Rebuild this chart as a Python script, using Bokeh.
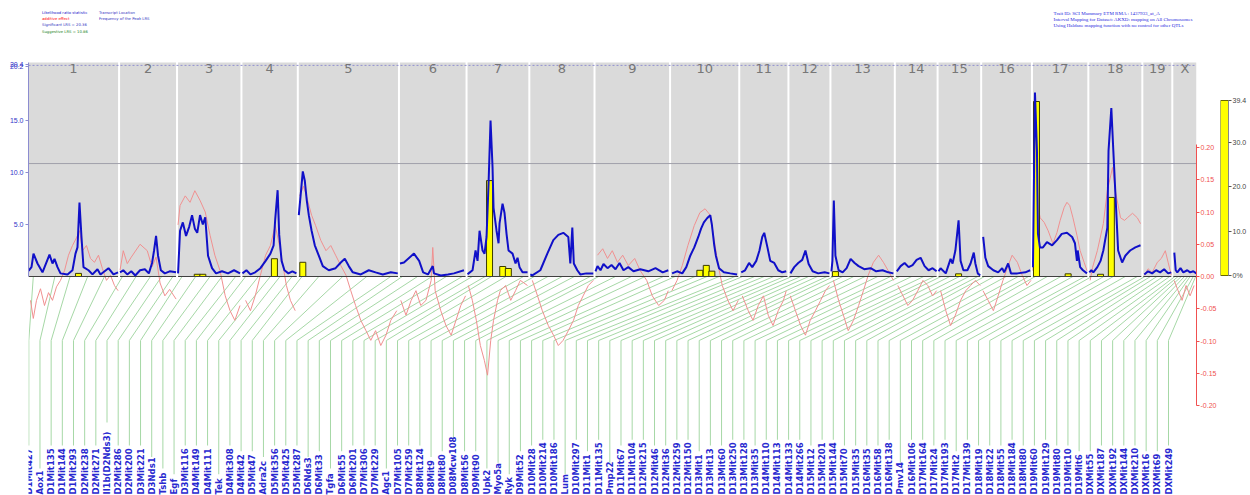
import math
from bokeh.plotting import figure
from bokeh.models import (Range1d, FixedTicker, PrintfTickFormatter, Legend, LegendItem,
                          Label, LabelSet, ColumnDataSource, LinearAxis)
from bokeh.layouts import row
from bokeh.embed import file_html
from bokeh.resources import INLINE
from bokeh.core.properties import value

# ---------------- data ----------------
CHROMS = ["1", "2", "3", "4", "5", "6", "7", "8", "9", "10",
          "11", "12", "13", "14", "15", "16", "17", "18", "19", "X"]
CHR_LEN_CM = [112, 70, 78, 68, 124, 82, 76, 79, 92, 84, 59, 50, 78, 51, 52, 61, 68, 65, 35, 29]
GAP_CM = 2.5

# LRS curve, one list per chromosome (position cM, LRS)
LRS_CM = [
    [0, 3.75, 6.25, 11.25, 17.5, 26.25, 30, 32.5, 36.25, 40, 48.75, 55, 58.75, 61.25, 63.75, 66.25, 68.75, 75, 80, 86.25, 90, 100, 106.25, 112],
    [0, 4, 9, 14, 19, 25, 31, 36, 40, 42.5, 45, 47.5, 51, 56, 62, 70],
    [0, 2.5, 6, 10, 14, 17.5, 21, 24, 27.5, 31, 34, 37.5, 42.5, 47.5, 55, 62.5, 70, 77.5],
    [0, 5, 10, 16, 22.5, 29, 35, 39, 41, 44, 46, 49, 52.5, 57.5, 62.5, 67.5],
    [0, 5, 7.5, 10, 12.5, 16, 20, 25, 30, 37.5, 46, 52.5, 57.5, 62.5, 67.5, 77.5, 87.5, 96, 105, 115, 123.75],
    [0, 5, 17.5, 24, 29, 35, 41, 42.5, 51, 60, 67.5, 80],
    [0, 1.25, 6.25, 10, 12.5, 15, 18.75, 21.25, 23.75, 26.25, 28.75, 31.25, 32.5, 36.25, 38.75, 40, 43.75, 46.25, 48.75, 51.25, 56.25, 60, 62.5, 65, 68.75, 75],
    [0, 2.5, 12.5, 21.25, 28.75, 35, 41.25, 47.5, 50, 52.5, 54.4, 58.75, 62.5, 70, 78.75],
    [0, 2.5, 6.25, 10, 15, 20, 25, 30, 35, 41, 47.5, 56, 66, 75, 84, 91],
    [1.25, 7.5, 14, 19, 24, 29, 34, 37.5, 41, 45, 49, 51, 54, 56, 60, 66, 74, 82.5],
    [1.25, 6, 11, 15, 20, 24, 27.5, 30, 34, 37.5, 42.5, 47.5, 52.5, 57.5],
    [1.25, 6, 11, 16, 20, 24, 29, 36, 44, 50],
    [0, 1.25, 3, 5, 9, 14, 19, 24, 29, 34, 41, 49, 56, 64, 71, 77.5],
    [1.25, 6, 11, 16, 21, 26, 31, 36, 41, 46, 51],
    [0, 2.5, 9, 15, 17.5, 21, 25, 27.5, 31, 36, 40, 44, 46, 49, 52],
    [1.25, 4, 7.5, 14, 20, 25, 27.5, 32.5, 36, 44, 54, 60],
    [0, 2.5, 5, 6.25, 8.75, 12.5, 17.5, 24, 30, 36, 42.5, 49, 52.5, 55, 56, 59, 62.5, 67.5],
    [0, 2.5, 5, 10, 14, 17.5, 22.5, 24, 27.5, 30, 34, 36, 41, 45, 51, 57.5, 64],
    [1.25, 6, 11, 16, 21, 26, 31, 35],
    [1.25, 3, 5, 9, 12.5, 17.5, 21, 25, 28.75],
]
LRS_VAL = [
    [0.55, 0.9, 2.2, 1.25, 0.4, 2.1, 1.25, 1.7, 0.9, 0.3, 0.2, 0.6, 2.2, 2.8, 7.1, 3.8, 0.9, 0.6, 0.2, 0.7, 0.2, 0.8, 0.2, 0.4],
    [0.4, 0.6, 0.2, 0.5, 0.1, 0.6, 0.7, 0.3, 1.3, 2.5, 3.9, 2.0, 0.6, 0.3, 0.5, 0.4],
    [0.3, 4.4, 5.2, 3.9, 4.8, 5.9, 4.6, 4.2, 5.9, 5.0, 5.7, 2.0, 0.8, 0.3, 0.5, 0.3, 0.6, 0.3],
    [0.3, 0.6, 0.2, 0.4, 0.8, 1.5, 2.2, 3.0, 5.5, 8.3, 4.0, 1.5, 0.6, 0.3, 0.5, 0.3],
    [5.9, 10.1, 9.2, 7.3, 5.9, 4.4, 3.0, 2.0, 1.0, 0.6, 0.8, 1.35, 1.7, 1.0, 0.4, 0.2, 0.6, 0.4, 0.2, 0.4, 0.3],
    [1.25, 1.35, 2.2, 1.5, 0.4, 0.2, 1.0, 0.3, 0.1, 0.2, 0.3, 0.6],
    [0.2, 0.3, 0.6, 2.5, 1.5, 4.4, 2.5, 2.2, 3.8, 8.9, 15.0, 10.5, 6.6, 4.4, 3.2, 5.1, 7.0, 6.1, 4.1, 2.5, 2.2, 1.25, 1.8, 0.9, 0.4, 0.4],
    [0.2, 0.1, 0.6, 2.2, 3.5, 4.0, 4.2, 3.8, 1.25, 4.7, 1.25, 0.6, 0.2, 0.3, 0.3],
    [0.5, 1.0, 0.6, 1.2, 0.8, 1.1, 0.7, 1.3, 0.6, 0.9, 0.5, 0.7, 0.5, 0.8, 0.4, 0.6],
    [0.3, 0.5, 0.3, 0.9, 2.0, 2.8, 3.8, 4.6, 5.2, 5.6, 5.9, 5.0, 3.0, 2.0, 0.8, 0.4, 0.3, 0.2],
    [0.4, 0.6, 1.3, 0.9, 1.5, 2.5, 3.8, 4.2, 2.8, 1.5, 1.3, 0.6, 0.4, 0.5],
    [0.3, 0.9, 1.3, 1.6, 2.5, 1.2, 0.5, 0.3, 0.4, 0.3],
    [0.5, 1.5, 7.3, 2.0, 0.6, 0.4, 0.8, 1.7, 1.3, 1.0, 0.7, 0.8, 0.5, 0.6, 0.4, 0.3],
    [0.5, 1.0, 1.3, 0.9, 1.1, 1.6, 1.8, 1.0, 0.6, 0.8, 0.5],
    [0.5, 0.8, 0.3, 1.7, 1.25, 2.5, 5.4, 1.5, 0.6, 0.6, 1.25, 2.3, 1.25, 0.3, 0.1],
    [3.8, 1.8, 1.0, 0.6, 0.4, 0.8, 0.4, 1.25, 0.3, 0.3, 0.4, 0.6],
    [0.9, 17.7, 12.1, 4.1, 2.8, 2.8, 3.3, 3.0, 3.5, 4.1, 4.2, 3.8, 3.2, 1.5, 2.5, 0.9, 0.6, 0.3],
    [0.4, 0.6, 0.4, 0.9, 1.5, 2.5, 4.7, 12.1, 16.2, 12.1, 5.7, 2.5, 1.35, 2.0, 2.5, 2.8, 3.0],
    [0.2, 0.5, 0.3, 0.6, 0.4, 0.7, 0.3, 0.4],
    [2.3, 0.6, 0.4, 0.8, 0.4, 0.6, 0.4, 0.5, 0.3],
]

# additive effect, one list per chromosome
ADD_CM = [
    [2.5, 6, 10, 15, 20, 25, 30, 35, 40, 45, 50, 55, 60, 64, 67.5, 72.5, 77.5, 82.5, 87.5, 92.5, 97.5, 102.5, 107.5, 112],
    [0, 4, 9, 14, 25, 34, 40, 45, 50, 56, 62, 70],
    [0, 2.5, 9, 15, 21, 27.5, 34, 40, 46, 52.5, 59, 65, 71, 77.5],
    [4, 10, 16, 22.5, 29, 35, 41, 45, 50, 55, 60, 66],
    [1, 6, 11, 16, 21, 27.5, 34, 40, 46, 52.5, 59, 65, 71, 77.5, 84, 90, 96, 102.5, 109, 115, 122.5],
    [1, 7.5, 14, 20, 26, 32.5, 39, 41, 44, 51, 57.5, 64, 70, 76, 82],
    [1, 6, 11, 16, 21, 25, 29, 32.5, 37.5, 41, 47.5, 54, 60, 66, 75],
    [2.5, 9, 15, 22.5, 29, 35, 41, 47.5, 54, 60, 66, 72.5, 78.75],
    [2.5, 9, 15, 21, 27.5, 34, 41, 49, 56, 64, 71, 79, 86, 91],
    [1, 7.5, 14, 21, 29, 36, 42.5, 49, 54, 59, 64, 71, 77.5, 84],
    [2.5, 10, 16, 22.5, 29, 35, 41, 47.5, 54, 57.5],
    [1, 7.5, 14, 20, 26, 32.5, 39, 45, 50],
    [2.5, 9, 15, 21, 27.5, 34, 40, 46, 52.5, 59, 65, 71, 77.5],
    [2.5, 9, 15, 21, 27.5, 34, 40, 46, 51],
    [2.5, 9, 15, 21, 27.5, 34, 40, 46, 52],
    [1, 7.5, 14, 20, 26, 32.5, 37.5, 44, 50, 56, 61],
    [0, 2.5, 5, 9, 14, 19, 25, 30, 34, 39, 42.5, 46, 50, 55, 59, 64, 67.5],
    [1, 4, 10, 17.5, 22.5, 29, 32.5, 39, 44, 47.5, 54, 60, 64],
    [1, 6, 11, 17.5, 22.5, 27.5, 31, 35],
    [1, 6, 11, 16, 21, 26],
]
ADD_VAL = [
    [-0.037, -0.065, -0.037, -0.019, -0.045, -0.025, -0.037, -0.016, -0.006, 0.009, 0.033, 0.048, 0.06, 0.071, 0.04, 0.048, 0.028, 0.022, 0.033, 0.012, -0.006, 0.002, -0.014, -0.022],
    [0.01, 0.04, 0.02, 0.03, 0.05, 0.04, 0.015, 0.03, -0.01, -0.03, -0.02, -0.035],
    [0.08, 0.11, 0.125, 0.115, 0.133, 0.118, 0.1, 0.064, 0.033, 0.009, -0.03, -0.053, -0.068, -0.045],
    [-0.037, -0.053, -0.03, 0.002, 0.033, 0.048, 0.079, 0.056, 0.022, -0.014, -0.037, -0.053],
    [0.125, 0.14, 0.118, 0.095, 0.079, 0.056, 0.04, 0.048, 0.033, 0.017, 0.002, -0.022, -0.045, -0.068, -0.084, -0.099, -0.084, -0.107, -0.091, -0.068, -0.053],
    [-0.037, -0.06, -0.037, -0.022, -0.045, -0.037, -0.006, 0.045, -0.022, -0.053, -0.076, -0.091, -0.068, -0.045, -0.03],
    [-0.014, -0.037, -0.068, -0.107, -0.13, -0.153, -0.099, -0.068, -0.037, -0.022, -0.014, -0.037, -0.022, -0.006, -0.014],
    [-0.006, -0.03, -0.053, -0.076, -0.091, -0.107, -0.099, -0.084, -0.068, -0.045, -0.03, -0.014, -0.006],
    [0.033, 0.043, 0.028, 0.04, 0.022, 0.033, 0.017, 0.028, 0.009, -0.006, -0.03, -0.045, -0.037, -0.022],
    [-0.022, -0.006, 0.017, 0.048, 0.079, 0.099, 0.105, 0.095, 0.056, 0.017, -0.014, -0.037, -0.053, -0.037],
    [-0.03, -0.053, -0.068, -0.045, -0.03, -0.06, -0.076, -0.053, -0.037, -0.022],
    [-0.03, -0.053, -0.076, -0.091, -0.068, -0.053, -0.037, -0.022, -0.014],
    [-0.006, -0.037, -0.06, -0.084, -0.068, -0.045, -0.022, 0.002, 0.022, 0.033, 0.022, 0.009, -0.006],
    [-0.014, -0.03, -0.045, -0.037, -0.022, -0.006, -0.014, -0.03, -0.022],
    [-0.022, -0.053, -0.076, -0.06, -0.037, -0.022, -0.014, -0.006, -0.014],
    [-0.022, -0.037, -0.053, -0.03, -0.006, 0.017, 0.033, 0.022, 0.002, -0.014, -0.006],
    [0.009, 0.144, 0.118, 0.091, 0.084, 0.071, 0.051, 0.068, 0.087, 0.107, 0.115, 0.11, 0.091, 0.064, 0.04, 0.022, 0.009],
    [-0.006, 0.014, 0.04, 0.082, 0.133, 0.169, 0.133, 0.091, 0.087, 0.091, 0.098, 0.091, 0.082],
    [0.002, 0.012, 0.006, 0.022, 0.028, 0.04, 0.022, 0.002],
    [-0.006, -0.022, -0.037, -0.014, -0.03, -0.014],
]

# frequency of the peak LRS (bootstrap), percent
FREQ_CHR = ["1", "3", "3", "4", "5", "7", "7", "7", "10", "10", "10", "13", "15", "17", "17", "18", "18"]
FREQ_CM = [62.5, 24, 31, 40, 5, 27.5, 44, 51, 36, 44, 51, 5, 25, 4.4, 44, 14, 27.5]
FREQ_PCT = [0.7, 0.5, 0.5, 4.0, 3.2, 21.6, 2.25, 1.8, 1.4, 2.5, 1.2, 1.1, 0.6, 39.4, 0.6, 0.5, 17.8]
FREQ_WIDTH_CM = 7.5
FREQ_MAX = 39.4

MARKERS = ["D1Mit427", "Aox1", "D1Mit135", "D1Mit144", "D1Mit293",
           "D2Mit238", "D2Mit271", "Il1b(D2Nds3)", "D2Mit286", "D2Mit200",
           "D3Mit221", "D3Nds1", "Tshb", "Egf", "D3Mit116",
           "D4Mit149", "D4Mit111", "Tek", "D4Mit308", "D4Mit42",
           "D5Mit47", "Adra2c", "D5Mit356", "D5Mit425", "D5Mit287",
           "D6Nds3", "D6Mit33", "Tgfa", "D6Mit55", "D6Mit201",
           "D7Mit306", "D7Mit229", "Agc1", "D7Mit105", "D7Mit259",
           "D8Mit124", "D8Mit9", "D8Mit80", "D08Mcw108", "D8Mit56",
           "D9Mit90", "Upk2", "Myo5a", "Ryk", "D9Mit52",
           "D10Mit28", "D10Mit214", "D10Mit186", "Lum", "D10Mit297",
           "D11Mit1", "D11Mit135", "Pmp22", "D11Mit67", "D11Mit104",
           "D12Mit215", "D12Mit46", "D12Mit36", "D12Mit259", "D12Mit150",
           "D13Mit1", "D13Mit13", "D13Mit60", "D13Mit250", "D13Mit128", "D13Mit35",
           "D14Mit110", "D14Mit113", "D14Mit133", "D14Mit266",
           "D15Mit12", "D15Mit201", "D15Mit144", "D15Mit70", "D15Mit35",
           "D16Mit35", "D16Mit58", "D16Mit138", "Pmv14", "D16Mit106",
           "D17Mit164", "D17Mit24", "D17Mit193", "D17Mit2", "D17Mit139",
           "D18Mit19", "D18Mit22", "D18Mit55", "D18Mit184", "D18Mit80",
           "D19Mit60", "D19Mit129", "D19Mit80", "D19Mit10", "D19Mit6",
           "DXMit55", "DXMit187", "DXMit192", "DXMit144", "DXMit210", "DXMit16", "DXMit69", "DXMit249"]
MARKER_CHR = (["1"] * 5 + ["2"] * 5 + ["3"] * 5 + ["4"] * 5 + ["5"] * 5 + ["6"] * 5 + ["7"] * 5 +
              ["8"] * 5 + ["9"] * 5 + ["10"] * 5 + ["11"] * 5 + ["12"] * 5 + ["13"] * 6 + ["14"] * 4 +
              ["15"] * 5 + ["16"] * 5 + ["17"] * 5 + ["18"] * 5 + ["19"] * 5 + ["X"] * 8)
MARKER_CM = [6, 33, 52, 74, 95,
             3, 20, 38, 52, 66,
             5, 22, 40, 55, 72,
             4, 20, 35, 47, 62,
             4, 25, 55, 85, 115,
             3, 22, 40, 58, 78,
             6, 22, 30, 48, 70,
             5, 22, 40, 55, 75,
             4, 25, 45, 62, 85,
             5, 30, 45, 60, 80,
             3, 18, 30, 42, 55,
             3, 14, 24, 35, 47,
             3, 14, 28, 42, 58, 74,
             5, 20, 35, 48,
             3, 14, 26, 38, 49,
             3, 15, 30, 45, 58,
             3, 18, 35, 50, 65,
             3, 18, 30, 45, 60,
             2, 9, 17, 25, 33,
             2, 6, 10, 14, 18, 21, 25, 28]

SIGNIFICANT = 20.3
SUGGESTIVE = 10.86
LRS_TICKS = [5, 10, 15, 20.2, 20.4]
ADD_TICKS = [-0.2, -0.15, -0.1, -0.05, 0.0, 0.05, 0.1, 0.15, 0.2]
FREQ_TICKS = [0, 10, 20, 30, 39.4]
TITLE_LINES = ["Trait ID: SCI Mammary ETM RMA : 1437933_at_A",
               "Interval Mapping for Dataset: AKXD: mapping on All Chromosomes",
               "Using Haldane mapping function with no control for other QTLs"]

# ---------------- layout constants ----------------
W_MAIN, H = 1220, 495
LEFT, RIGHT = 28, 24
FRAME_W = W_MAIN - LEFT - RIGHT
BASE_PX = 276.0          # baseline, px from top
LRS_PX = 10.4            # px per LRS unit
ADD_PX = 645.0           # px per additive-effect unit
FREQ_PX = 175.0 / FREQ_MAX
CB_BASE_PX = 275.0

BLUE = "#1010c8"
RED_LINE = "#f09090"
RED_AX = "#f05050"
GREEN = "#a6d8a6"
PANEL = "#dadada"

offsets = []
acc = 0.0
for L in CHR_LEN_CM:
    offsets.append(acc)
    acc += L + GAP_CM
TOTAL = acc - GAP_CM
PX_PER_CM = FRAME_W / TOTAL
cidx = {c: i for i, c in enumerate(CHROMS)}


def lrs_at(py):
    return (BASE_PX - py) / LRS_PX


def gx(c, cm):
    return offsets[cidx[c]] + cm


p = figure(width=W_MAIN, height=H, x_range=Range1d(0, TOTAL),
           y_range=Range1d(lrs_at(H), lrs_at(0)),
           min_border_left=LEFT, min_border_right=RIGHT, min_border_top=0, min_border_bottom=0,
           toolbar_location=None, output_backend="svg", x_axis_location=None, y_axis_location="left")
p.extra_y_ranges = {"add": Range1d(-(H - BASE_PX) / ADD_PX, BASE_PX / ADD_PX),
                    "freq": Range1d(-(H - BASE_PX) / FREQ_PX, BASE_PX / FREQ_PX)}
p.grid.visible = False
p.outline_line_color = None
p.background_fill_color = "white"
p.border_fill_color = "white"

# chromosome panels
ends = [o + L for o, L in zip(offsets, CHR_LEN_CM)]
p.quad(left=offsets, right=ends, bottom=0, top=lrs_at(62), fill_color=PANEL, line_color=None)

# threshold lines
r_sig = p.line(x=[0, TOTAL], y=[SIGNIFICANT, SIGNIFICANT], line_color="#9090d0", line_dash="2 2", line_width=1)
r_sug = p.line(x=[0, TOTAL], y=[SUGGESTIVE, SUGGESTIVE], line_color="#a0a0aa", line_width=1)

# chromosome names
centers = [(o + e) / 2 for o, e in zip(offsets, ends)]
p.text(x=centers, y=lrs_at(68), text=CHROMS, text_align="center", text_baseline="middle",
       text_font=value("DejaVu Sans"), text_font_size="13px", text_color="#777777")

# marker connector lines and labels
n = len(MARKERS)
LAB_X0 = 0.3
LAB_STEP = (1168 - LEFT - LAB_X0) / (n - 1)
KINK_PX = 340
LAB_BOTTOM_PX = 494
CHAR_PX = 5.75
xs, ys, lab_x = [], [], []
for i, (name, c, cm) in enumerate(zip(MARKERS, MARKER_CHR, MARKER_CM)):
    mx = gx(c, cm)
    lx = (LAB_X0 + i * LAB_STEP) / PX_PER_CM
    top_px = LAB_BOTTOM_PX - len(name) * CHAR_PX - 3
    xs.append([mx, lx, lx])
    ys.append([0, lrs_at(KINK_PX), lrs_at(top_px)])
    lab_x.append(lx)
p.multi_line(xs=xs, ys=ys, line_color=GREEN, line_width=1)

lab_src = ColumnDataSource(dict(x=lab_x, y=[lrs_at(LAB_BOTTOM_PX)] * n, name=MARKERS))
p.add_layout(LabelSet(x="x", y="y", text="name", source=lab_src, angle=math.pi / 2,
                      text_align="left", text_baseline="middle", text_font=value("DejaVu Sans"),
                      text_font_style="bold", text_font_size="8.5px", text_color="#2828d0"))

# additive effect
add_xs = [[gx(c, v) for v in cms] for c, cms in zip(CHROMS, ADD_CM)]
r_add = p.multi_line(xs=add_xs, ys=ADD_VAL, line_color=RED_LINE, line_width=1, y_range_name="add")

# frequency bars
r_freq = p.vbar(x=[gx(c, v) for c, v in zip(FREQ_CHR, FREQ_CM)], width=FREQ_WIDTH_CM, top=FREQ_PCT,
                bottom=0, y_range_name="freq", fill_color="#ffff00", line_color="#3a3a00", line_width=1)

# baseline
p.segment(x0=offsets, x1=ends, y0=0, y1=0, line_color="#404040", line_width=1)

# LRS curve
lrs_xs = [[gx(c, v) for v in cms] for c, cms in zip(CHROMS, LRS_CM)]
r_lrs = p.multi_line(xs=lrs_xs, ys=LRS_VAL, line_color=BLUE, line_width=2)

# axes
ax = p.yaxis[0]
ax.bounds = (0, lrs_at(62))
ax.ticker = FixedTicker(ticks=LRS_TICKS)
ax.formatter = PrintfTickFormatter(format="%.1f")
ax.axis_line_color = "#8c8cd0"
ax.major_tick_line_color = "#8c8cd0"
ax.major_tick_out = 3
ax.major_tick_in = 0
ax.minor_tick_line_color = None
ax.major_label_text_font_size = "7px"
ax.major_label_text_color = "#3434c8"
ax.major_label_standoff = 2

rax = LinearAxis(y_range_name="add", bounds=(-0.2, 0.205), ticker=FixedTicker(ticks=ADD_TICKS),
                 formatter=PrintfTickFormatter(format="%.2f"))
rax.axis_line_color = RED_AX
rax.major_tick_line_color = RED_AX
rax.major_tick_out = 3
rax.major_tick_in = 0
rax.minor_tick_line_color = None
rax.major_label_text_font_size = "7px"
rax.major_label_text_color = RED_AX
rax.major_label_standoff = 1
p.add_layout(rax, "right")

# legend (empty renderers as samples)
leg_specs = [
    ("Likelihood ratio statistic", p.line(x=[], y=[], line_color=BLUE, line_width=1), BLUE, 2, 12.7),
    ("additive effect", p.line(x=[], y=[], line_color="#ff0000", line_width=1), "#ff0000", 2, 18.5),
    ("Significant LRS = 20.36", p.line(x=[], y=[], line_color="#8080c0", line_dash="2 1", line_width=1), "#3030c0", 2, 25.0),
    ("Suggestive LRS = 10.86", p.line(x=[], y=[], line_color="#30a030", line_dash="2 1", line_width=1), "#208020", 2, 31.5),
    ("Transcript Location", p.scatter(x=[], y=[], marker="triangle", size=5, fill_color="#c8b400", line_color="#555500"), "#3030c0", 64, 12.7),
    ("Frequency of the Peak LRS", p.scatter(x=[], y=[], marker="square", size=4, fill_color="#ffff00", line_color="#555500"), "#3030c0", 64, 18.5),
]
for label, rend, color, lx0, cy in leg_specs:
    lg = Legend(items=[LegendItem(label=label, renderers=[rend])], location=(lx0, H - cy - 2),
                label_text_font_size="3.8px", label_text_color=color, glyph_width=10 if lx0 < 10 else 5,
                glyph_height=4, label_height=4, label_standoff=2, padding=0, margin=0,
                border_line_color=None, background_fill_alpha=0, label_text_font="DejaVu Sans")
    p.add_layout(lg)

for k, t in enumerate(TITLE_LINES):
    p.add_layout(Label(x=1053 - LEFT, y=H - (12.7 + 6.2 * k), x_units="screen", y_units="screen",
                       text=t, text_font_size="5px", text_color="#2828e0", text_baseline="middle",
                       text_font="Liberation Serif"))

# colour bar for frequency (same vertical borders as the main plot so the row keeps both frames aligned)
cb = figure(width=30, height=H, x_range=Range1d(0, 1),
            y_range=Range1d(-(H - CB_BASE_PX) / FREQ_PX, CB_BASE_PX / FREQ_PX),
            min_border_left=0, min_border_right=22, min_border_top=0, min_border_bottom=0,
            toolbar_location=None, output_backend="svg", x_axis_location=None, y_axis_location="right")
cb.grid.visible = False
cb.outline_line_color = None
cb.quad(left=0, right=1, bottom=0, top=FREQ_MAX, fill_color="#ffff00", line_color="#666600", line_width=1)
cax = cb.yaxis[0]
cax.bounds = (0, FREQ_MAX)
cax.ticker = FixedTicker(ticks=FREQ_TICKS)
cax.formatter = PrintfTickFormatter(format="%.1f")
cax.major_label_overrides = {0: "0%"}
cax.axis_line_color = "#888888"
cax.major_tick_line_color = "#555555"
cax.major_tick_out = 3
cax.major_tick_in = 0
cax.minor_tick_line_color = None
cax.major_label_text_font_size = "7px"
cax.major_label_text_color = "#444444"
cax.major_label_standoff = 1

layout = row(p, cb)
open("out.html", "w").write(file_html(layout, INLINE))
